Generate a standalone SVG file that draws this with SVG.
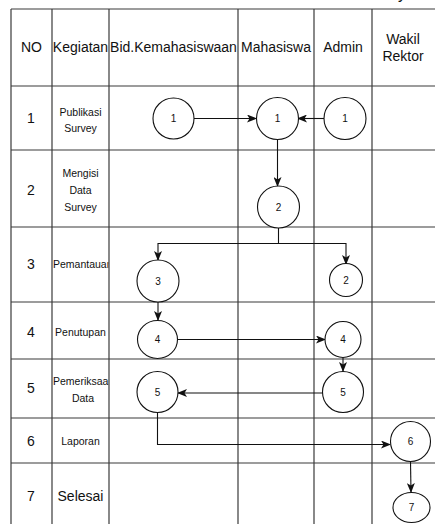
<svg xmlns="http://www.w3.org/2000/svg" width="435" height="524" viewBox="0 0 435 524">
  <defs>
    <style>
      .grid { stroke: #3a3a3a; stroke-width: 1.2; fill: none; }
      .hdr { font-family: "Liberation Sans", Arial, sans-serif; font-size: 14px; fill: #111; text-anchor: middle; }
      .num { font-family: "Liberation Sans", Arial, sans-serif; font-size: 14px; fill: #111; text-anchor: middle; }
      .lbl { font-family: "Liberation Sans", Arial, sans-serif; font-size: 10.5px; fill: #111; text-anchor: middle; }
      .lbl-l { font-family: "Liberation Sans", Arial, sans-serif; font-size: 10.5px; fill: #111; }
      .node circle, .node ellipse { fill: #fff; stroke: #111; stroke-width: 1.1; }
      .node text { font-family: "Liberation Sans", Arial, sans-serif; font-size: 10px; fill: #111; text-anchor: middle; }
      .edge { stroke: #111; stroke-width: 1.1; fill: none; marker-end: url(#arrow); }
    </style>
    <marker id="arrow" viewBox="0 0 10 8" refX="9" refY="4" markerWidth="10" markerHeight="8" markerUnits="userSpaceOnUse" orient="auto">
      <path d="M0,0 L10,4 L0,8 L2.5,4 z" fill="#111"/>
    </marker>
    <clipPath id="kegiatanCol">
      <rect x="52" y="0" width="56.5" height="524"/>
    </clipPath>
  </defs>

  <rect x="0" y="0" width="435" height="524" fill="#fff"/>

  <!-- fragment of a caption above the table -->
  <text x="398" y="-1" font-family="Liberation Sans, Arial, sans-serif" font-size="16" fill="#111">y</text>

  <!-- table grid -->
  <g id="table-grid" class="grid">
    <line x1="11" y1="9" x2="435" y2="9"/>
    <line x1="11" y1="86" x2="435" y2="86"/>
    <line x1="11" y1="150" x2="435" y2="150"/>
    <line x1="11" y1="227" x2="435" y2="227"/>
    <line x1="11" y1="302" x2="435" y2="302"/>
    <line x1="11" y1="359" x2="435" y2="359"/>
    <line x1="11" y1="418" x2="435" y2="418"/>
    <line x1="11" y1="463" x2="435" y2="463"/>
    <line x1="11" y1="9" x2="11" y2="524"/>
    <line x1="52" y1="9" x2="52" y2="524"/>
    <line x1="109" y1="9" x2="109" y2="524"/>
    <line x1="238" y1="9" x2="238" y2="524"/>
    <line x1="314" y1="9" x2="314" y2="524"/>
    <line x1="372" y1="9" x2="372" y2="524"/>
  </g>

  <!-- column headers -->
  <g id="headers">
    <text class="hdr" x="31.5" y="52">NO</text>
    <text class="hdr" x="80.5" y="52">Kegiatan</text>
    <text class="hdr" x="173.5" y="52">Bid.Kemahasiswaan</text>
    <text class="hdr" x="276" y="52">Mahasiswa</text>
    <text class="hdr" x="343" y="52">Admin</text>
    <text class="hdr" x="403" y="44">Wakil</text>
    <text class="hdr" x="403" y="61">Rektor</text>
  </g>

  <!-- row numbers -->
  <g id="row-numbers">
    <text class="num" x="31" y="123">1</text>
    <text class="num" x="31" y="195">2</text>
    <text class="num" x="31" y="269">3</text>
    <text class="num" x="31" y="337">4</text>
    <text class="num" x="31" y="393">5</text>
    <text class="num" x="31" y="446">6</text>
    <text class="num" x="31" y="501">7</text>
  </g>

  <!-- activity names -->
  <g id="activities">
    <text class="lbl" x="80.5" y="116">Publikasi</text>
    <text class="lbl" x="80.5" y="132">Survey</text>
    <text class="lbl" x="80.5" y="177">Mengisi</text>
    <text class="lbl" x="80.5" y="194">Data</text>
    <text class="lbl" x="80.5" y="211">Survey</text>
    <g clip-path="url(#kegiatanCol)">
      <text class="lbl-l" x="53" y="268">Pemantauan</text>
      <text class="lbl-l" x="53" y="385">Pemeriksaan</text>
    </g>
    <text class="lbl" x="80.5" y="336">Penutupan</text>
    <text class="lbl" x="83" y="402">Data</text>
    <text class="lbl" x="80.5" y="445">Laporan</text>
    <text class="num" x="80.5" y="501">Selesai</text>
  </g>

  <!-- connectors -->
  <g id="connectors">
    <line class="edge" x1="194" y1="118.5" x2="256" y2="118.5"/>
    <line class="edge" x1="324" y1="118.5" x2="298" y2="118.5"/>
    <line class="edge" x1="277.5" y1="140" x2="277.5" y2="186"/>
    <path class="edge" d="M278.5,228 V243.5 H158 V260"/>
    <path class="edge" d="M278.5,243.5 H346 V264"/>
    <line class="edge" x1="158" y1="302" x2="158" y2="320"/>
    <line class="edge" x1="177.5" y1="339.5" x2="325" y2="339.5"/>
    <line class="edge" x1="343" y1="357.5" x2="343" y2="371"/>
    <line class="edge" x1="323" y1="393" x2="178" y2="393"/>
    <path class="edge" d="M157.5,413 V444.5 H390"/>
    <line class="edge" x1="410.5" y1="461.5" x2="411" y2="492"/>
  </g>

  <!-- process nodes -->
  <g id="bid-1" class="node"><circle cx="173.5" cy="118.5" r="20.5"/><text x="173.5" y="122">1</text></g>
  <g id="mhs-1" class="node"><circle cx="277.5" cy="118.5" r="21"/><text x="277.5" y="122">1</text></g>
  <g id="adm-1" class="node"><circle cx="345" cy="118.5" r="21"/><text x="345" y="122">1</text></g>
  <g id="mhs-2" class="node"><circle cx="278.5" cy="207" r="21"/><text x="278.5" y="210.5">2</text></g>
  <g id="bid-3" class="node"><circle cx="158" cy="281" r="21"/><text x="158" y="284.5">3</text></g>
  <g id="adm-2" class="node"><circle cx="346" cy="280" r="16.5"/><text x="346" y="283.5">2</text></g>
  <g id="bid-4" class="node"><ellipse cx="157.5" cy="339.5" rx="20" ry="19"/><text x="157.5" y="343">4</text></g>
  <g id="adm-4" class="node"><circle cx="343" cy="339.5" r="18"/><text x="343" y="343">4</text></g>
  <g id="adm-5" class="node"><circle cx="343" cy="392" r="20.5"/><text x="343" y="395.5">5</text></g>
  <g id="bid-5" class="node"><circle cx="157.5" cy="392" r="20.5"/><text x="157.5" y="395.5">5</text></g>
  <g id="wr-6" class="node"><circle cx="410.5" cy="441.5" r="20"/><text x="410.5" y="445">6</text></g>
  <g id="wr-7" class="node"><ellipse cx="411.5" cy="507.5" rx="18.5" ry="15"/><text x="411.5" y="511">7</text></g>
</svg>
